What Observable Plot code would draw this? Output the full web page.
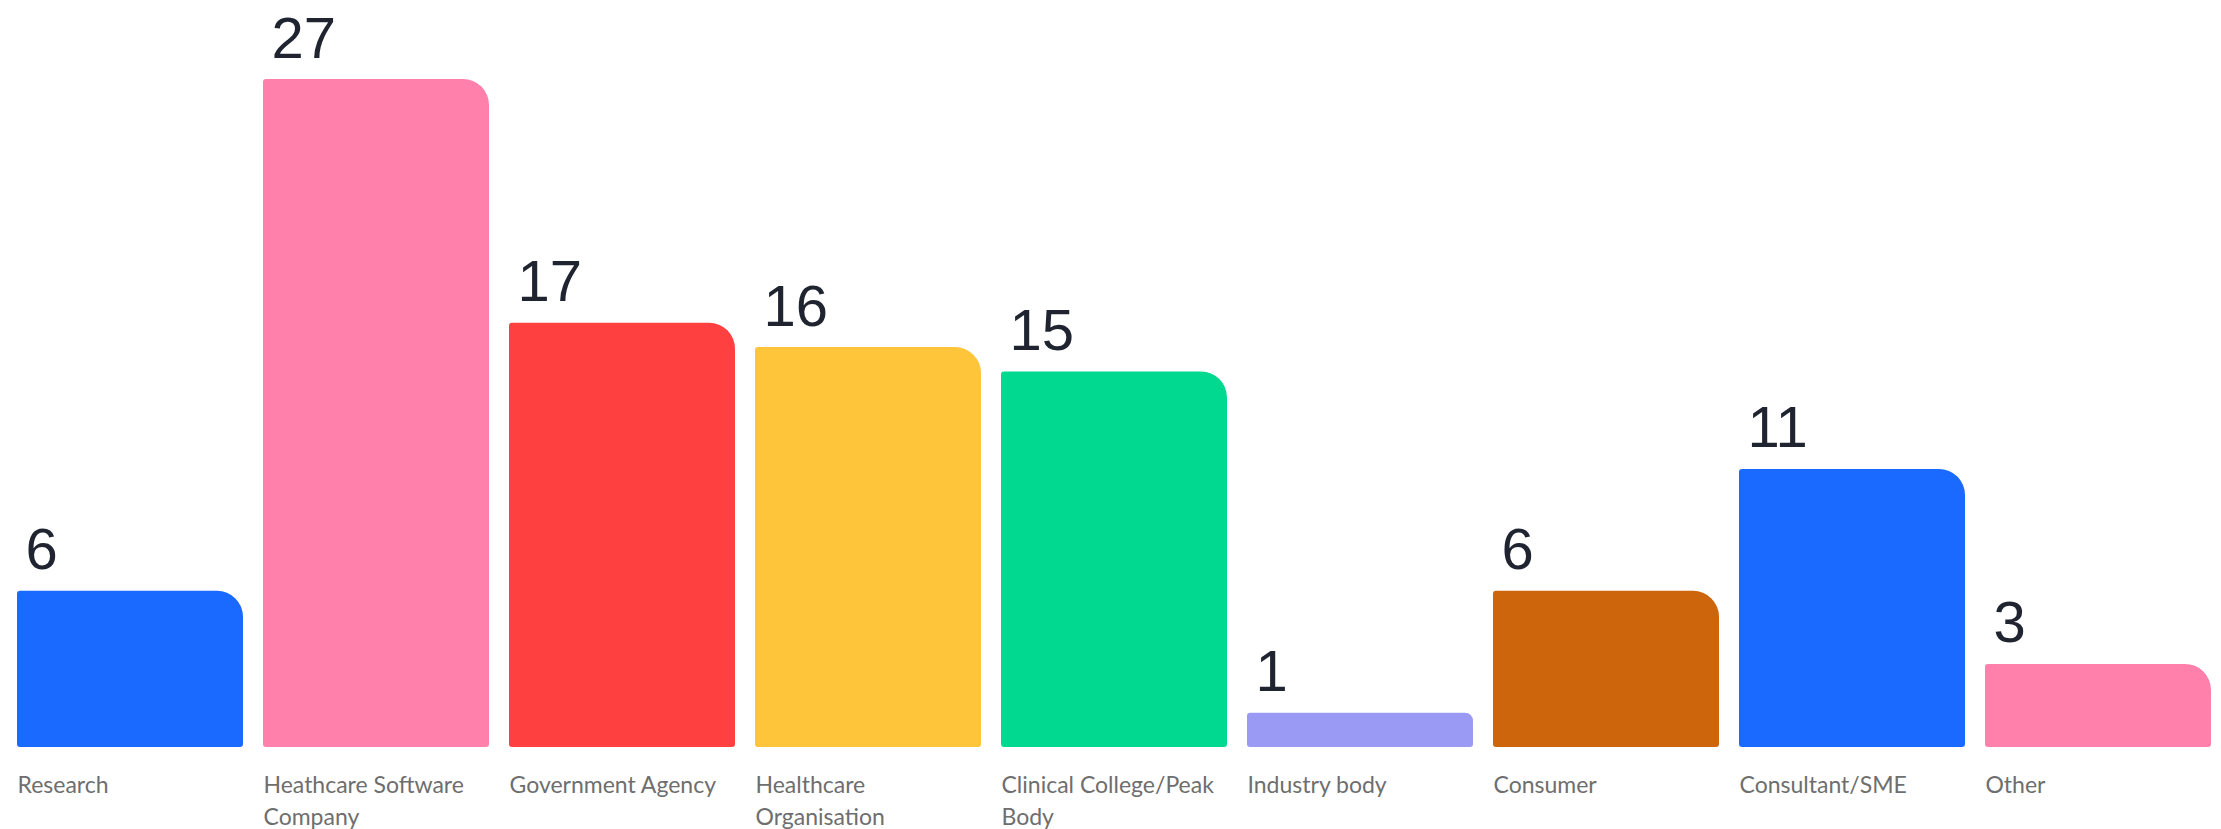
<!DOCTYPE html>
<html><head><meta charset="utf-8">
<script src="https://cdn.jsdelivr.net/npm/d3@7"></script>
<script src="https://cdn.jsdelivr.net/npm/@observablehq/plot@0.6"></script>
<style>html,body{margin:0;padding:0;background:#fff} svg{display:block}</style>
</head><body><div id="chart"></div>
<script>
const categories = ["Research","Heathcare Software\nCompany","Government Agency","Healthcare\nOrganisation","Clinical College/Peak\nBody","Industry body","Consumer","Consultant/SME","Other"];
const values = [6,27,17,16,15,1,6,11,3];
const colors = ["#1a6aff","#ff80aa","#ff4040","#fec53a","#00d98f","#9a9af5","#cc650b","#1a6aff","#ff80aa"];
const data = categories.map((c,i)=>({category:c, value: values[i], color: colors[i]}));

const chart = Plot.plot({
  width: 2221,
  height: 829,
  marginTop: 0, marginLeft: 0, marginRight: 0, marginBottom: 82,
  style: {background: "#fff"},
  x: {domain: categories, range: [16, 2212], paddingInner: 0.0813, paddingOuter: 0, axis: null},
  y: {domain: [0, d3.max(values)], range: [737, 79], axis: null},
  color: {type: "identity"},
  marks: [
    Plot.barY(data, {filter: d => d.value >= 3, x: "category", y: "value", fill: "color", insetBottom: -10,
      rx1y1: 3, rx1y2: 3, rx2y2: 3, rx2y1: 26}),
    Plot.barY(data, {filter: d => d.value < 3, x: "category", y: "value", fill: "color", insetBottom: -10,
      rx1y1: 3, rx1y2: 3, rx2y2: 3, rx2y1: 8}),
    Plot.text(data, {x: "category", y: "value", text: d => String(d.value), textAnchor: "start", lineAnchor: "bottom",
      dx: -105, dy: -22, fontSize: 58, fill: "#1f2430", fontFamily: "Liberation Sans, Arial, sans-serif"}),
    Plot.text(data, {x: "category", frameAnchor: "bottom", text: "category", textAnchor: "start", lineAnchor: "top",
      dx: -113, dy: 23, fontSize: 23, lineHeight: 1.38, fill: "#6e6e6e", fontFamily: "Lato, sans-serif"})
  ]
});
document.getElementById("chart").appendChild(chart);
</script>
</body></html>
